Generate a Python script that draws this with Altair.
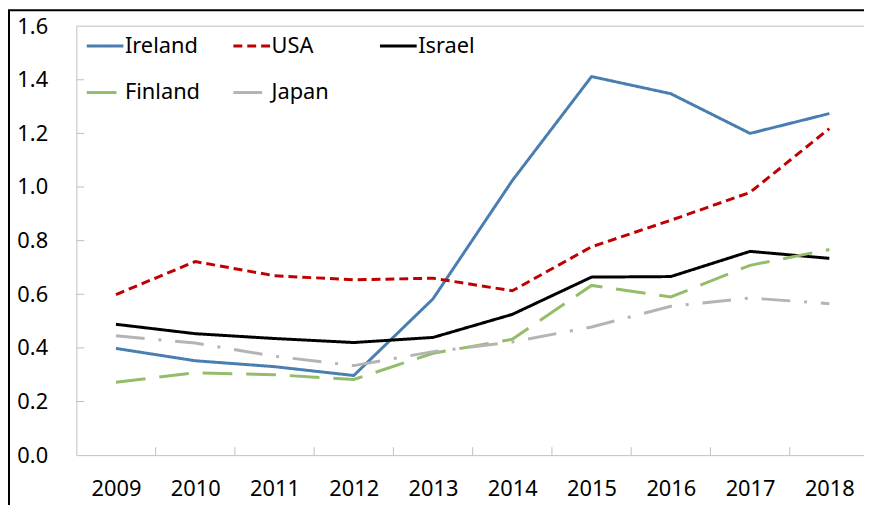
import altair as alt
import pandas as pd

years = [2009, 2010, 2011, 2012, 2013, 2014, 2015, 2016, 2017, 2018]
countries = ["Ireland", "USA", "Israel", "Finland", "Japan"]
ireland = [0.398, 0.352, 0.330, 0.297, 0.583, 1.024, 1.412, 1.348, 1.200, 1.274]
usa = [0.599, 0.722, 0.669, 0.654, 0.660, 0.613, 0.777, 0.876, 0.980, 1.218]
israel = [0.488, 0.453, 0.435, 0.420, 0.439, 0.525, 0.664, 0.666, 0.760, 0.734]
finland = [0.272, 0.307, 0.300, 0.282, 0.380, 0.432, 0.633, 0.590, 0.708, 0.767]
japan = [0.445, 0.418, 0.369, 0.334, 0.386, 0.422, 0.478, 0.555, 0.586, 0.565]

colors = ["#4a7eb0", "#c00000", "#000000", "#93bd6a", "#b4b4b4"]
dashes = [[1, 0], [9, 5], [1, 0], [30, 14], [29, 14, 3, 14]]

y_tick_values = [0.0, 0.2, 0.4, 0.6, 0.8, 1.0, 1.2, 1.4, 1.6]
y_inner_ticks = [0.2, 0.4, 0.6, 0.8, 1.0, 1.2, 1.4]
x_boundaries = [2009.5, 2010.5, 2011.5, 2012.5, 2013.5, 2014.5, 2015.5, 2016.5, 2017.5]

series = {"Ireland": ireland, "USA": usa, "Israel": israel, "Finland": finland, "Japan": japan}
rows = []
for c in countries:
    for yr, v in zip(years, series[c]):
        rows.append({"country": c, "year": yr, "value": v})
df = pd.DataFrame(rows)

GRAY = "#bfbfbf"
xscale = alt.Scale(domain=[2008.5, 2018.4375], nice=False, zero=False)
yscale = alt.Scale(domain=[0, 1.6], nice=False)

xaxis = alt.Axis(
    values=years, format="d", ticks=False, grid=False, domainColor=GRAY,
    labelFontSize=22, labelPadding=24, labelFlush=False, labelColor="#000000",
    title=None)
yaxis = alt.Axis(
    values=y_tick_values, format=".1f", ticks=False, grid=False, domainColor=GRAY,
    labelFontSize=22, labelPadding=29, labelColor="#000000", title=None)

legend = alt.Legend(
    title=None, orient="none", legendX=9, legendY=0, columns=3, direction="horizontal",
    gridAlign="all", columnPadding=27, rowPadding=16,
    symbolType="stroke", symbolSize=1369, symbolStrokeWidth=3,
    labelFontSize=22, labelOffset=0, padding=0, labelColor="#000000",
)

lines = alt.Chart(df).mark_line(strokeWidth=3).encode(
    x=alt.X("year:Q", scale=xscale, axis=xaxis),
    y=alt.Y("value:Q", scale=yscale, axis=yaxis),
    color=alt.Color("country:N", scale=alt.Scale(domain=countries, range=colors), legend=legend),
    strokeDash=alt.StrokeDash("country:N", scale=alt.Scale(domain=countries, range=dashes), legend=legend),
)

top_border = alt.Chart(pd.DataFrame({"value": [1.6]})).mark_rule(color=GRAY, strokeWidth=1).encode(
    y=alt.Y("value:Q", scale=yscale, axis=yaxis)
)

yticks = alt.Chart(pd.DataFrame({"value": y_inner_ticks})).mark_rule(color=GRAY, strokeWidth=1).encode(
    y=alt.Y("value:Q", scale=yscale, axis=yaxis), x=alt.value(0), x2=alt.value(8)
)

xticks = alt.Chart(pd.DataFrame({"year": x_boundaries})).mark_rule(color=GRAY, strokeWidth=1).encode(
    x=alt.X("year:Q", scale=xscale, axis=xaxis), y=alt.value(425), y2=alt.value(433)
)

frame = alt.Chart(pd.DataFrame({"k": [0]})).mark_rect(
    fill="transparent", stroke="#000000", strokeWidth=2, clip=False
).encode(
    x=alt.value(-68), x2=alt.value(1200), y=alt.value(-16), y2=alt.value(1200)
)

chart = alt.layer(lines, top_border, yticks, xticks, frame).properties(
    width=795, height=433,
    autosize=alt.AutoSizeParams(type="none"),
    padding={"left": 69, "top": 16, "right": 0, "bottom": 48},
).configure(font="Noto Sans").configure_view(stroke=None)

chart.save("out.html", embed_options={"renderer": "svg", "actions": False})
